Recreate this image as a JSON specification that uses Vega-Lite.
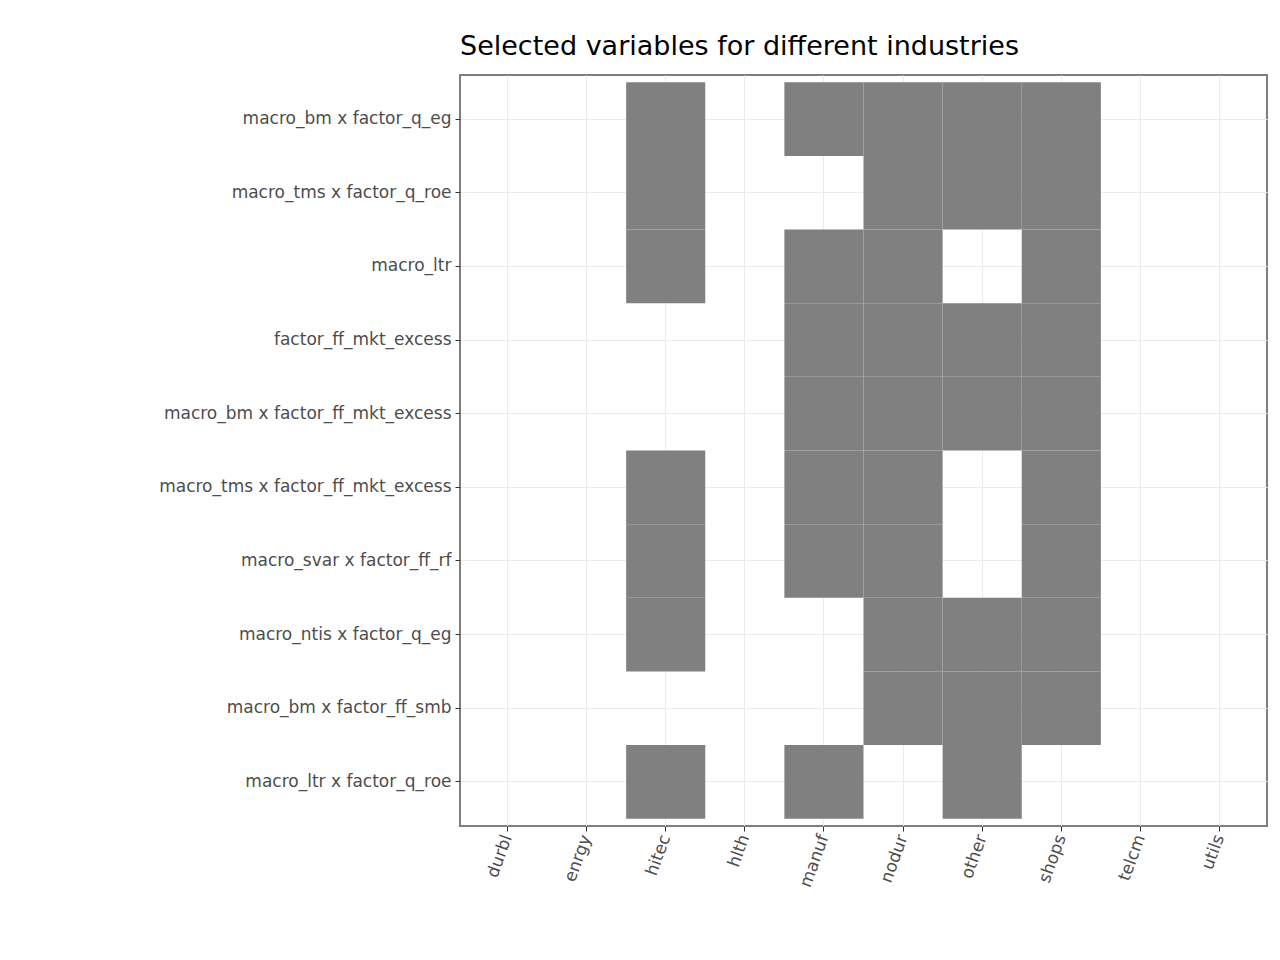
{
"$schema":"https://vega.github.io/schema/vega-lite/v6.json",
"width":807,"height":751,
"autosize":{"type":"none"},
"padding":{"left":460,"top":75,"right":13,"bottom":134},
"background":"white",
"title":{"text":"Selected variables for different industries","anchor":"start","frame":"group","font":"DejaVu Sans","fontSize":27,"fontWeight":"normal","color":"black","offset":14},
"config":{"view":{"stroke":"#7f7f7f","strokeWidth":2}},
"data":{"values":[
{"v":"macro_bm x factor_q_eg","i":"hitec"},{"v":"macro_bm x factor_q_eg","i":"manuf"},{"v":"macro_bm x factor_q_eg","i":"nodur"},{"v":"macro_bm x factor_q_eg","i":"other"},{"v":"macro_bm x factor_q_eg","i":"shops"},
{"v":"macro_tms x factor_q_roe","i":"hitec"},{"v":"macro_tms x factor_q_roe","i":"nodur"},{"v":"macro_tms x factor_q_roe","i":"other"},{"v":"macro_tms x factor_q_roe","i":"shops"},
{"v":"macro_ltr","i":"hitec"},{"v":"macro_ltr","i":"manuf"},{"v":"macro_ltr","i":"nodur"},{"v":"macro_ltr","i":"shops"},
{"v":"factor_ff_mkt_excess","i":"manuf"},{"v":"factor_ff_mkt_excess","i":"nodur"},{"v":"factor_ff_mkt_excess","i":"other"},{"v":"factor_ff_mkt_excess","i":"shops"},
{"v":"macro_bm x factor_ff_mkt_excess","i":"manuf"},{"v":"macro_bm x factor_ff_mkt_excess","i":"nodur"},{"v":"macro_bm x factor_ff_mkt_excess","i":"other"},{"v":"macro_bm x factor_ff_mkt_excess","i":"shops"},
{"v":"macro_tms x factor_ff_mkt_excess","i":"hitec"},{"v":"macro_tms x factor_ff_mkt_excess","i":"manuf"},{"v":"macro_tms x factor_ff_mkt_excess","i":"nodur"},{"v":"macro_tms x factor_ff_mkt_excess","i":"shops"},
{"v":"macro_svar x factor_ff_rf","i":"hitec"},{"v":"macro_svar x factor_ff_rf","i":"manuf"},{"v":"macro_svar x factor_ff_rf","i":"nodur"},{"v":"macro_svar x factor_ff_rf","i":"shops"},
{"v":"macro_ntis x factor_q_eg","i":"hitec"},{"v":"macro_ntis x factor_q_eg","i":"nodur"},{"v":"macro_ntis x factor_q_eg","i":"other"},{"v":"macro_ntis x factor_q_eg","i":"shops"},
{"v":"macro_bm x factor_ff_smb","i":"nodur"},{"v":"macro_bm x factor_ff_smb","i":"other"},{"v":"macro_bm x factor_ff_smb","i":"shops"},
{"v":"macro_ltr x factor_q_roe","i":"hitec"},{"v":"macro_ltr x factor_q_roe","i":"manuf"},{"v":"macro_ltr x factor_q_roe","i":"other"}
]},
"mark":{"type":"rect","color":"#808080","strokeWidth":0},
"encoding":{
"x":{"field":"i","type":"nominal","scale":{"domain":["durbl","enrgy","hitec","hlth","manuf","nodur","other","shops","telcm","utils"],"paddingInner":0,"paddingOuter":0.1},"axis":{"title":null,"labelAngle":-70,"grid":true,"gridColor":"#ebebeb","zindex":0,"domain":false,"tickColor":"#333333","tickSize":5,"labelFont":"DejaVu Sans","labelFontSize":17,"labelColor":"#4d4d4d","labelLimit":0,"labelPadding":4}},
"y":{"field":"v","type":"nominal","scale":{"domain":["macro_bm x factor_q_eg","macro_tms x factor_q_roe","macro_ltr","factor_ff_mkt_excess","macro_bm x factor_ff_mkt_excess","macro_tms x factor_ff_mkt_excess","macro_svar x factor_ff_rf","macro_ntis x factor_q_eg","macro_bm x factor_ff_smb","macro_ltr x factor_q_roe"],"paddingInner":0,"paddingOuter":0.1},"axis":{"title":null,"grid":true,"gridColor":"#ebebeb","zindex":0,"domain":false,"tickColor":"#333333","tickSize":5,"labelFont":"DejaVu Sans","labelFontSize":17,"labelColor":"#4d4d4d","labelLimit":0,"labelPadding":4}}
}
}
